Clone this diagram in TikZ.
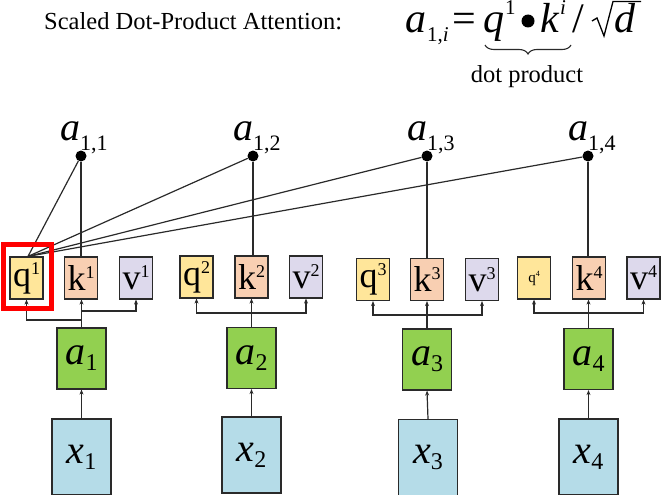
\documentclass[tikz,border=0pt]{standalone}
\usepackage{fontspec}
\setmainfont{Liberation Serif}
\usetikzlibrary{arrows.meta,calc,decorations.pathreplacing}
\definecolor{qfill}{HTML}{FFE69A}
\definecolor{kfill}{HTML}{F8CFB2}
\definecolor{vfill}{HTML}{DDD9EC}
\definecolor{afill}{HTML}{92D050}
\definecolor{xfill}{HTML}{B5DCE8}
\definecolor{edge}{HTML}{2A2A2A}
\newcommand{\fsz}[1]{\fontsize{#1}{#1}\selectfont}
\newcommand{\lowsub}[2]{\raisebox{-#1}{#2}}
\newcommand{\hisup}[1]{\raisebox{12pt}{\fsz{18}#1}}
\begin{document}
\begin{tikzpicture}[x=1pt,y=-1pt,
  vecbox/.style={draw=edge,line width=1.2pt,minimum width=33pt,minimum height=42pt,inner sep=0pt,font=\fsz{36}},
  abox/.style={draw=edge,line width=1.2pt,fill=afill,minimum width=49pt,minimum height=61pt,inner sep=0pt,font=\fsz{40}},
  xbox/.style={draw=edge,line width=1.2pt,fill=xfill,minimum width=59pt,minimum height=76pt,inner sep=0pt,font=\fsz{40}},
  arr/.style={-{Stealth[length=5pt,width=4pt]},line width=1.2pt,edge},
  ln/.style={line width=1.2pt,edge},
  dotn/.style={circle,fill=black,inner sep=0pt,minimum size=11pt},
  albl/.style={anchor=base west,inner sep=0pt,font=\fsz{40}},
  ftxt/.style={anchor=base west,inner sep=0pt,font=\fsz{42}}]
\useasboundingbox (0,0) rectangle (661,495);

% title and formula
\node[anchor=base west,inner sep=0pt,font=\fsz{24.5}] (title) at (44,29.5) {Scaled Dot-Product Attention:};
\node[ftxt] (fa) at (405,33) {\textit{a}};
\node[anchor=base west,inner sep=0pt,font=\fsz{21}] (fsub) at (427,42) {1,\textit{i}};
\node[ftxt] (feq) at (452,33) {=};
\node[ftxt] (fq) at (483,33) {\textit{q}};
\node[anchor=base west,inner sep=0pt,font=\fsz{21}] (fq1) at (505,15) {1};
\node[circle,fill=black,inner sep=0pt,minimum size=13pt] (fdot) at (528,21) {};
\node[ftxt] (fk) at (540,33) {\textit{k}};
\node[anchor=base west,inner sep=0pt,font=\fsz{21}] (fki) at (560,15) {\textit{i}};
\node[ftxt] (fsl) at (572,33) {/};
\node[ftxt] (fd) at (614,33) {\textit{d}};
\coordinate (r1) at (592,21);
\coordinate (r2) at (597,18);
\coordinate (r3) at (604,36);
\coordinate (r4) at (613,1.5);
\coordinate (r5) at (641,1.5);
\draw[line width=1.3pt,line join=miter] (r1) -- (r2) -- (r3) -- (r4) -- (r5);
\coordinate (brL) at (485,45);
\coordinate (brR) at (571,45);
\draw[line width=1.1pt,edge,decorate,decoration={brace,mirror,amplitude=9pt}] (brL) -- (brR);
\node[anchor=base,inner sep=0pt,font=\fsz{24.5}] (dp) at (527,82) {dot product};

% q k v boxes
\node[vecbox,fill=qfill] (q1) at (26.5,278) {q\hisup{1}};
\node[vecbox,fill=kfill] (k1) at (81,278) {k\hisup{1}};
\node[vecbox,fill=vfill] (v1) at (136,278) {v\hisup{1}};
\node[vecbox,fill=qfill] (q2) at (196.5,277) {q\hisup{2}};
\node[vecbox,fill=kfill] (k2) at (251.5,277) {k\hisup{2}};
\node[vecbox,fill=vfill] (v2) at (306,277) {v\hisup{2}};
\node[vecbox,fill=qfill] (q3) at (373,279.5) {q\hisup{3}};
\node[vecbox,fill=kfill] (k3) at (427,279.5) {k\hisup{3}};
\node[vecbox,fill=vfill] (v3) at (482,279.5) {v\hisup{3}};
\node[vecbox,fill=qfill] (q4) at (534,278) {\fsz{15}q\raisebox{6pt}{\fsz{8}4}};
\node[vecbox,fill=kfill] (k4) at (589,278) {k\hisup{4}};
\node[vecbox,fill=vfill] (v4) at (643.5,278) {v\hisup{4}};

% a boxes
\node[abox] (a1) at (81.5,358.5) {\textit{a}\lowsub{6pt}{\fsz{24}1}};
\node[abox] (a2) at (251.5,358) {\textit{a}\lowsub{6pt}{\fsz{24}2}};
\node[abox] (a3) at (427,359.5) {\textit{a}\lowsub{6pt}{\fsz{24}3}};
\node[abox] (a4) at (588.5,359) {\textit{a}\lowsub{6pt}{\fsz{24}4}};

% x boxes
\node[xbox] (x1) at (81.5,457) {\textit{x}\lowsub{6pt}{\fsz{24}1}};
\node[xbox] (x2) at (251.5,455) {\textit{x}\lowsub{6pt}{\fsz{24}2}};
\node[xbox] (x3) at (428,457.5) {\textit{x}\lowsub{6pt}{\fsz{24}3}};
\node[xbox] (x4) at (588.5,457) {\textit{x}\lowsub{6pt}{\fsz{24}4}};

% x -> a, a -> k
\foreach \i in {1,2,3,4} {
  \draw[arr] (x\i.north) -- (a\i.south);
  \draw[arr] (a\i.north) -- (a\i.north |- k\i.south);
}

% bus lines
\coordinate (b1) at (81,311);
\coordinate (b1q) at (81,320);
\coordinate (b2) at (251.5,313);
\coordinate (b3) at (427,315);
\coordinate (b4) at (589,313);
\draw[arr] (b1) -| (v1.south);
\draw[arr] (b1q) -| (q1.south);
\foreach \i in {2,3,4} {
  \draw[arr] (b\i) -| (q\i.south);
  \draw[arr] (b\i) -| (v\i.south);
}

% attention score dots
\node[dotn] (d1) at (81,156) {};
\node[dotn] (d2) at (253,156) {};
\node[dotn] (d3) at (427,156) {};
\node[dotn] (d4) at (588,156) {};
\node[albl] (l1) at (60,140) {\textit{a}\lowsub{10pt}{\fsz{22}1,1}};
\node[albl] (l2) at (233,140) {\textit{a}\lowsub{10pt}{\fsz{22}1,2}};
\node[albl] (l3) at (407,140) {\textit{a}\lowsub{10pt}{\fsz{22}1,3}};
\node[albl] (l4) at (568,140) {\textit{a}\lowsub{10pt}{\fsz{22}1,4}};

\foreach \i in {1,2,3,4} {
  \draw[ln] (d\i) -- (d\i |- k\i.north);
  \draw[ln] ($(q1.north)+(1.5,0)$) -- (d\i);
}

% highlight
\draw[red,line width=4.5pt] ($(q1.south west)+(-6,9)$) rectangle ($(q1.north east)+(8,-12)$);
\end{tikzpicture}
\end{document}
